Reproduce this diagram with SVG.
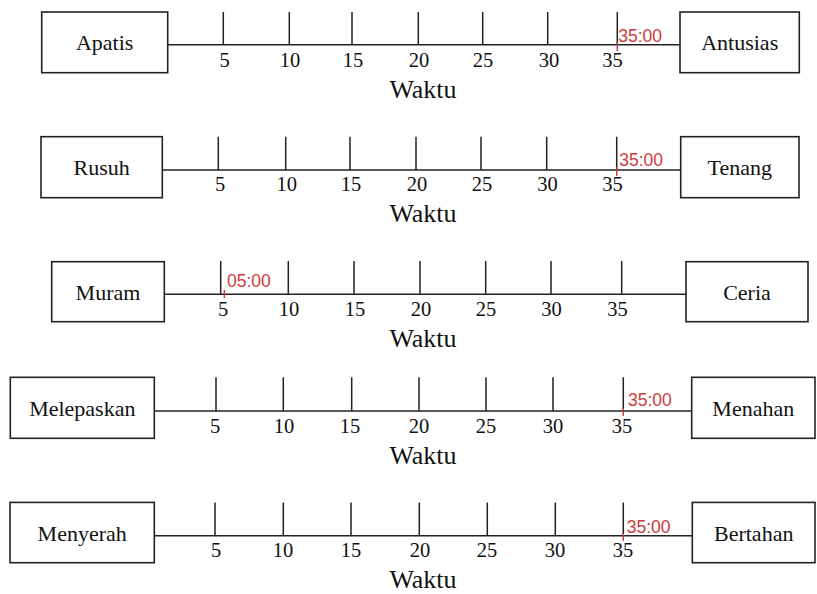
<svg xmlns="http://www.w3.org/2000/svg" width="817" height="594" viewBox="0 0 817 594">
  <style>
    .box { fill: #fff; stroke: #222; stroke-width: 1.6; }
    .axis, .tick { stroke: #222; stroke-width: 1.5; fill: none; }
    .mark { stroke: #cc3b3b; stroke-width: 1.4; }
    .lbl { font-family: "Liberation Serif", "Times New Roman", serif; font-size: 22px; fill: #111; text-anchor: middle; }
    .num { font-family: "Liberation Serif", "Times New Roman", serif; font-size: 20.5px; fill: #111; text-anchor: middle; }
    .cap { font-family: "Liberation Serif", "Times New Roman", serif; font-size: 26px; fill: #111; text-anchor: middle; }
    .time { font-family: "Liberation Sans", Arial, sans-serif; font-size: 17.5px; fill: #cc3b3b; }
  </style>
  <rect width="817" height="594" fill="#fff"/>

  <!-- Row 1: Apatis - Antusias -->
  <g id="apatis"><rect class="box" x="41.7" y="12" width="126" height="60.7"/><text class="lbl" x="104.7" y="50">Apatis</text></g>
  <g id="antusias"><rect class="box" x="680" y="12" width="119.3" height="60.7"/><text class="lbl" x="739.7" y="50">Antusias</text></g>

  <!-- Row 2: Rusuh - Tenang -->
  <g id="rusuh"><rect class="box" x="41" y="136.7" width="121.3" height="61"/><text class="lbl" x="101.7" y="175">Rusuh</text></g>
  <g id="tenang"><rect class="box" x="680.7" y="136.7" width="118.3" height="61"/><text class="lbl" x="739.8" y="175">Tenang</text></g>

  <!-- Row 3: Muram - Ceria -->
  <g id="muram"><rect class="box" x="51.7" y="261.7" width="112.6" height="60"/><text class="lbl" x="108" y="299.5">Muram</text></g>
  <g id="ceria"><rect class="box" x="686" y="261.7" width="122" height="60"/><text class="lbl" x="747" y="299.5">Ceria</text></g>

  <!-- Row 4: Melepaskan - Menahan -->
  <g id="melepaskan"><rect class="box" x="10.3" y="377.3" width="144" height="61"/><text class="lbl" x="82.3" y="415.5">Melepaskan</text></g>
  <g id="menahan"><rect class="box" x="691.7" y="377.3" width="123.3" height="61"/><text class="lbl" x="753.3" y="415.5">Menahan</text></g>

  <!-- Row 5: Menyerah - Bertahan -->
  <g id="menyerah"><rect class="box" x="10" y="502.4" width="144.3" height="60.3"/><text class="lbl" x="82.2" y="541">Menyerah</text></g>
  <g id="bertahan"><rect class="box" x="692.3" y="502.4" width="122.7" height="60.3"/><text class="lbl" x="753.7" y="541">Bertahan</text></g>

  <!-- Time axes joining each pair of boxes -->
  <g id="connectors">
    <line class="axis" x1="167.7" y1="44.7" x2="680" y2="44.7"/>
    <line class="axis" x1="162.3" y1="170" x2="680.7" y2="170"/>
    <line class="axis" x1="164.3" y1="294.3" x2="686" y2="294.3"/>
    <line class="axis" x1="154.3" y1="411" x2="691.7" y2="411"/>
    <line class="axis" x1="154.3" y1="535.7" x2="692.3" y2="535.7"/>
  </g>

  <!-- Minute ticks and scale labels -->
  <g id="scale1">
    <path class="tick" d="M223.3 12V44.7M289.3 12V44.7M352 12V44.7M418.3 12V44.7M482.7 12V44.7M547.7 12V44.7M617.3 12V44.7"/>
    <text class="num" y="67"><tspan x="224.5">5</tspan><tspan x="290">10</tspan><tspan x="353">15</tspan><tspan x="419">20</tspan><tspan x="483">25</tspan><tspan x="549">30</tspan><tspan x="612.5">35</tspan></text>
    <text class="cap" x="423" y="97.7">Waktu</text>
    <line class="mark" x1="617.3" y1="42" x2="617.3" y2="51"/>
    <text class="time" x="618.3" y="41.7">35:00</text>
  </g>
  <g id="scale2">
    <path class="tick" d="M218.3 136.7V170M285.7 136.7V170M350 136.7V170M416 136.7V170M481 136.7V170M546.7 136.7V170M616.7 136.7V170"/>
    <text class="num" y="191.3"><tspan x="220">5</tspan><tspan x="286.7">10</tspan><tspan x="351">15</tspan><tspan x="417">20</tspan><tspan x="482">25</tspan><tspan x="547.5">30</tspan><tspan x="612.5">35</tspan></text>
    <text class="cap" x="423" y="221.7">Waktu</text>
    <line class="mark" x1="616.7" y1="167" x2="616.7" y2="176"/>
    <text class="time" x="619.3" y="166">35:00</text>
  </g>
  <g id="scale3">
    <path class="tick" d="M220.7 261V294.3M288.3 261V294.3M354 261V294.3M420 261V294.3M485.7 261V294.3M551 261V294.3M621.7 261V294.3"/>
    <text class="num" y="315.7"><tspan x="223">5</tspan><tspan x="289">10</tspan><tspan x="355">15</tspan><tspan x="421">20</tspan><tspan x="486">25</tspan><tspan x="551.5">30</tspan><tspan x="617.5">35</tspan></text>
    <text class="cap" x="423" y="346.7">Waktu</text>
    <line class="mark" x1="224.3" y1="290" x2="224.3" y2="298"/>
    <text class="time" x="227" y="287">05:00</text>
  </g>
  <g id="scale4">
    <path class="tick" d="M216 377.3V411M283.3 377.3V411M351.7 377.3V411M419 377.3V411M486 377.3V411M553 377.3V411M623.3 377.3V411"/>
    <text class="num" y="432.7"><tspan x="215">5</tspan><tspan x="284">10</tspan><tspan x="350">15</tspan><tspan x="419">20</tspan><tspan x="486">25</tspan><tspan x="553">30</tspan><tspan x="622">35</tspan></text>
    <text class="cap" x="423" y="463.5">Waktu</text>
    <line class="mark" x1="623.3" y1="408" x2="623.3" y2="416"/>
    <text class="time" x="628" y="406">35:00</text>
  </g>
  <g id="scale5">
    <path class="tick" d="M215 502.4V535.7M283.3 502.4V535.7M351 502.4V535.7M419.3 502.4V535.7M487.3 502.4V535.7M555.3 502.4V535.7M623.3 502.4V535.7"/>
    <text class="num" y="557"><tspan x="216">5</tspan><tspan x="283">10</tspan><tspan x="351">15</tspan><tspan x="420">20</tspan><tspan x="487">25</tspan><tspan x="555">30</tspan><tspan x="623">35</tspan></text>
    <text class="cap" x="423" y="587.7">Waktu</text>
    <line class="mark" x1="623.3" y1="533" x2="623.3" y2="541"/>
    <text class="time" x="626.7" y="532.7">35:00</text>
  </g>
</svg>
